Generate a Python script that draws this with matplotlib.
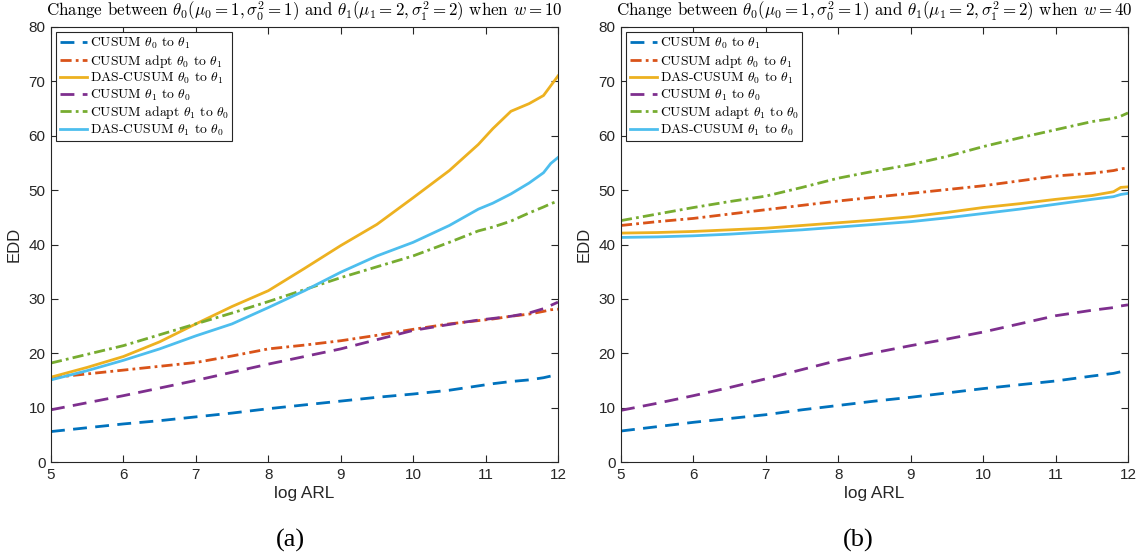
import numpy as np
import matplotlib
matplotlib.use("Agg")
import matplotlib.pyplot as plt

plt.rcParams['mathtext.fontset'] = 'cm'

# ---- data: EDD vs log ARL ----
# w = 10
x10 = [5, 5.5, 6, 6.5, 7, 7.5, 8, 8.5, 9, 9.5, 10, 10.5, 10.9, 11.1, 11.35, 11.6, 11.8, 11.9, 12]
cusum01_10 = [5.6, 6.3, 7.0, 7.6, 8.3, 9.0, 9.8, 10.5, 11.2, 11.9, 12.5, 13.2, 14.0, 14.4, 14.8, 15.1, 15.5, 15.8, 16.0]
adpt01_10 = [15.5, 16.2, 16.9, 17.6, 18.3, 19.5, 20.8, 21.5, 22.3, 23.3, 24.4, 25.4, 26.0, 26.3, 26.8, 27.2, 27.7, 28.0, 28.1]
das01_10 = [15.6, 17.4, 19.4, 22.1, 25.4, 28.6, 31.5, 35.6, 39.8, 43.7, 48.6, 53.6, 58.4, 61.3, 64.5, 65.9, 67.4, 69.2, 71.0]
cusum10_10 = [9.6, 10.9, 12.2, 13.6, 15.0, 16.5, 18.0, 19.4, 20.8, 22.5, 24.2, 25.3, 26.1, 26.4, 26.8, 27.4, 28.2, 28.8, 29.4]
adpt10_10 = [18.2, 19.8, 21.4, 23.4, 25.4, 27.4, 29.5, 31.7, 33.9, 35.9, 37.9, 40.4, 42.5, 43.2, 44.3, 45.8, 46.9, 47.5, 48.0]
das10_10 = [15.1, 16.8, 18.7, 20.8, 23.2, 25.4, 28.4, 31.5, 34.9, 37.9, 40.4, 43.5, 46.5, 47.6, 49.3, 51.3, 53.2, 54.9, 56.0]

# w = 40
x40 = [5, 5.5, 6, 6.5, 7, 7.5, 8, 8.5, 9, 9.5, 10, 10.5, 11, 11.5, 11.8, 11.9, 12]
cusum01_40 = [5.7, 6.5, 7.3, 8.0, 8.7, 9.6, 10.4, 11.2, 11.9, 12.7, 13.5, 14.2, 14.9, 15.8, 16.3, 16.6, 16.7]
adpt01_40 = [43.5, 44.2, 44.8, 45.6, 46.4, 47.2, 48.0, 48.7, 49.4, 50.1, 50.8, 51.7, 52.6, 53.1, 53.6, 53.9, 54.1]
das01_40 = [42.1, 42.2, 42.4, 42.7, 43.0, 43.5, 44.0, 44.5, 45.1, 45.9, 46.8, 47.5, 48.3, 49.0, 49.7, 50.5, 50.6]
cusum10_40 = [9.5, 10.8, 12.2, 13.7, 15.3, 17.0, 18.7, 20.1, 21.4, 22.6, 23.9, 25.4, 26.9, 27.9, 28.4, 28.7, 28.9]
adpt10_40 = [44.4, 45.6, 46.8, 47.9, 48.9, 50.5, 52.2, 53.5, 54.7, 56.2, 58.0, 59.6, 61.1, 62.6, 63.2, 63.6, 64.2]
das10_40 = [41.3, 41.4, 41.6, 41.9, 42.3, 42.7, 43.2, 43.7, 44.2, 44.9, 45.7, 46.5, 47.4, 48.3, 48.8, 49.2, 49.4]

labels = [r'CUSUM $\theta_0$ to $\theta_1$',
          r'CUSUM adpt $\theta_0$ to $\theta_1$',
          r'DAS-CUSUM $\theta_0$ to $\theta_1$',
          r'CUSUM $\theta_1$ to $\theta_0$',
          r'CUSUM adapt $\theta_1$ to $\theta_0$',
          r'DAS-CUSUM $\theta_1$ to $\theta_0$']
colors = ['#0072BD', '#D95319', '#EDB120', '#7E2F8E', '#77AC30', '#4DBEEE']
styles = [(0, (5, 3)), (0, (4, 1.5, 1, 1.5)), '-', (0, (5, 3)), (0, (4, 1.5, 1, 1.5)), '-']

panels = [
    (x10, [cusum01_10, adpt01_10, das01_10, cusum10_10, adpt10_10, das10_10], 10, '(a)'),
    (x40, [cusum01_40, adpt01_40, das01_40, cusum10_40, adpt10_40, das10_40], 40, '(b)'),
]

fig = plt.figure(figsize=(11.46, 5.58), dpi=100)
lefts = [51 / 1146, 621 / 1146]
w_ax = 507 / 1146
b_ax = (558 - 462) / 558
h_ax = 435 / 558
sub_x = [290 / 1146, 858 / 1146]

for i, (x, series, w, tag) in enumerate(panels):
    ax = fig.add_axes([lefts[i], b_ax, w_ax, h_ax])
    for y, lab, c, ls in zip(series, labels, colors, styles):
        ax.plot(x, y, color=c, linestyle=ls, linewidth=2.0, label=lab)
    ax.set_xlim(5, 12)
    ax.set_ylim(0, 80)
    ax.set_xticks(range(5, 13))
    ax.set_yticks(range(0, 81, 10))
    ax.tick_params(direction='in', top=True, right=True, length=5,
                   width=0.8, colors='#262626', labelsize=11, pad=4)
    for lbl in ax.get_xticklabels() + ax.get_yticklabels():
        lbl.set_fontfamily('Liberation Sans')
    for sp in ax.spines.values():
        sp.set_color('#262626')
        sp.set_linewidth(0.8)
    ax.set_xlabel('log ARL', fontsize=12.4, family='Liberation Sans', color='#262626', labelpad=3)
    ax.set_ylabel('EDD', fontsize=12, family='Liberation Sans', color='#262626', labelpad=5)
    ax.set_title(r'Change between $\theta_0(\mu_0=1,\sigma_0^2=1)$ and '
                 r'$\theta_1(\mu_1=2,\sigma_1^2=2)$ when $w=%d$' % w,
                 fontsize=12.2, family='cmr10', pad=8)
    leg = ax.legend(loc='upper left', prop={'family': 'cmr10', 'size': 9.8},
                    fancybox=False, edgecolor='#262626', framealpha=1,
                    handlelength=2.0, handletextpad=0.2, labelspacing=0.1,
                    borderpad=0.25, borderaxespad=0.4)
    leg.get_frame().set_linewidth(0.8)
    fig.text(sub_x[i], 18 / 558, tag, ha='center', va='center',
             fontsize=19, family='Liberation Serif')

fig.savefig('out.png', dpi=100)
